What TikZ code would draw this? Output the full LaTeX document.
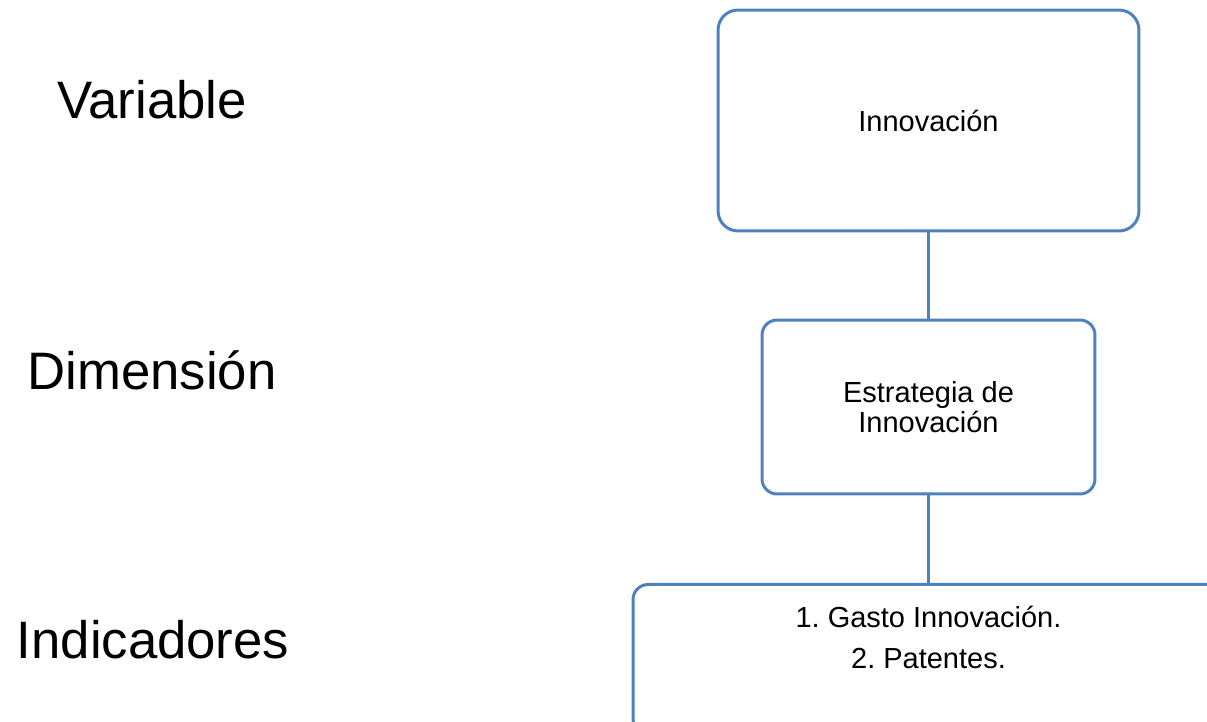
\documentclass[tikz,border=0pt]{standalone}
\usepackage{fontspec}
\setmainfont{Liberation Sans}
\usepackage{tikz}
\definecolor{boxblue}{RGB}{79,129,189}
\frenchspacing

\begin{document}
\begin{tikzpicture}[x=0.02cm, y=-0.02cm,
		caja/.style={draw=boxblue, line width=1.7pt, rounded corners=0.4cm, align=center, font=\fontsize{16.5}{17.1}\selectfont},
		nivel/.style={font=\fontsize{30}{36}\selectfont},
		enlace/.style={draw=boxblue, line width=1.7pt}]
						\useasboundingbox (0,0) rectangle (1207,722);
						\clip (0,0) rectangle (1207,722);
						\node[nivel] (variable) at (152,100) {Variable};
						\node[nivel] (dimension) at (152,370) {Dimensión};
						\node[nivel] (indicadores) at (153,640) {Indicadores};
						
						\node[caja, minimum width=8.42cm, minimum height=4.42cm] (innovacion) at (928.5,120.5) {Innovación};
						\node[caja, minimum width=6.66cm, minimum height=3.48cm, rounded corners=0.3cm] (estrategia) at (928.5,407) {Estrategia de\\Innovación};
						\node[caja, minimum width=11.82cm, minimum height=3cm, rounded corners=0.3cm, anchor=north] (lista) at (928.5,583) {};
						\node[align=center, inner sep=0pt, anchor=north, font=\fontsize{16.5}{17.1}\selectfont] (listatxt) at (928.5,606) {1. Gasto Innovación.\\[6.3pt]2. Patentes.};
						
						\path[enlace] (innovacion) -- (estrategia);
						\path[enlace] (estrategia) -- (lista);
\end{tikzpicture}
\end{document}
